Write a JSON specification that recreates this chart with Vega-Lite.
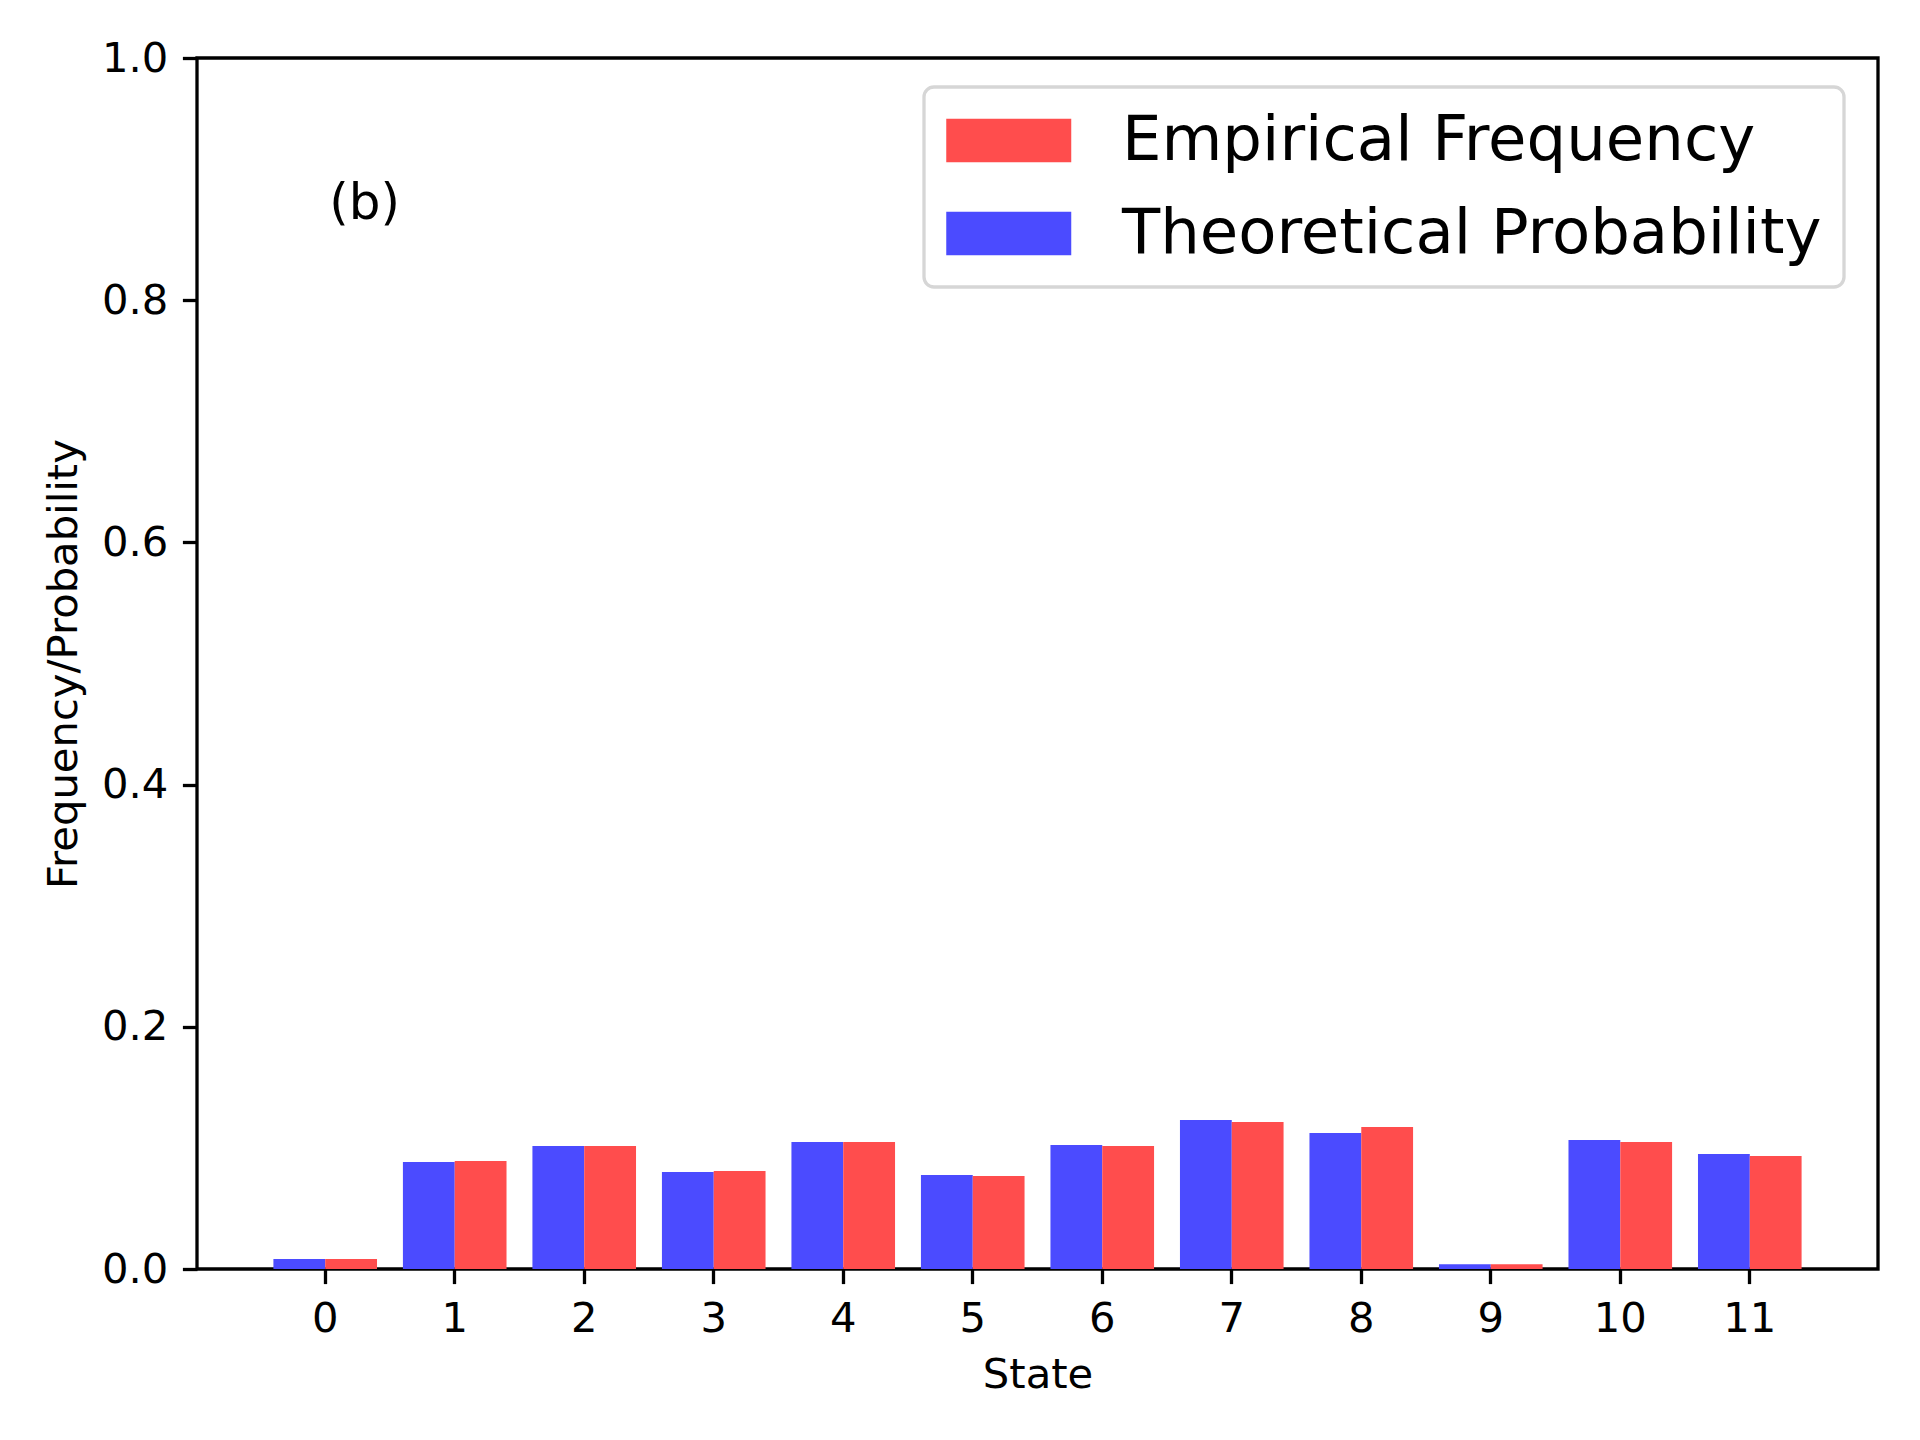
{
  "$schema": "https://vega.github.io/schema/vega-lite/v6.json",
  "width": 1681,
  "height": 1211,
  "autosize": {"type": "none"},
  "padding": {"left": 197, "top": 58, "right": 42, "bottom": 171},
  "background": "white",
  "config": {
    "font": "DejaVu Sans",
    "view": {"stroke": "black", "strokeWidth": 3.3},
    "axis": {
      "domain": false,
      "grid": false,
      "ticks": true,
      "tickColor": "black",
      "tickWidth": 3.3,
      "tickSize": 14.6,
      "labelPadding": 14.6,
      "labelFont": "DejaVu Sans",
      "labelFontSize": 41.7,
      "labelColor": "black",
      "titleFont": "DejaVu Sans",
      "titleFontSize": 41.7,
      "titleFontWeight": "normal",
      "titleColor": "black"
    },
    "legend": {
      "strokeColor": "#d6d6d6",
      "strokeWidth": 3.3,
      "fillColor": "white",
      "cornerRadius": 10,
      "padding": 22
    }
  },
  "layer": [
    {
      "data": {
        "values": [
          {"state": 0, "series": "Theoretical Probability", "value": 0.0083},
          {"state": 0, "series": "Empirical Frequency", "value": 0.0083},
          {"state": 1, "series": "Theoretical Probability", "value": 0.0884},
          {"state": 1, "series": "Empirical Frequency", "value": 0.0892},
          {"state": 2, "series": "Theoretical Probability", "value": 0.1016},
          {"state": 2, "series": "Empirical Frequency", "value": 0.1016},
          {"state": 3, "series": "Theoretical Probability", "value": 0.0800},
          {"state": 3, "series": "Empirical Frequency", "value": 0.0810},
          {"state": 4, "series": "Theoretical Probability", "value": 0.1049},
          {"state": 4, "series": "Empirical Frequency", "value": 0.1049},
          {"state": 5, "series": "Theoretical Probability", "value": 0.0776},
          {"state": 5, "series": "Empirical Frequency", "value": 0.0768},
          {"state": 6, "series": "Theoretical Probability", "value": 0.1024},
          {"state": 6, "series": "Empirical Frequency", "value": 0.1016},
          {"state": 7, "series": "Theoretical Probability", "value": 0.1230},
          {"state": 7, "series": "Empirical Frequency", "value": 0.1214},
          {"state": 8, "series": "Theoretical Probability", "value": 0.1123},
          {"state": 8, "series": "Empirical Frequency", "value": 0.1173},
          {"state": 9, "series": "Theoretical Probability", "value": 0.0040},
          {"state": 9, "series": "Empirical Frequency", "value": 0.0040},
          {"state": 10, "series": "Theoretical Probability", "value": 0.1065},
          {"state": 10, "series": "Empirical Frequency", "value": 0.1049},
          {"state": 11, "series": "Theoretical Probability", "value": 0.0950},
          {"state": 11, "series": "Empirical Frequency", "value": 0.0933}
        ]
      },
      "mark": {"type": "bar", "opacity": 1, "strokeWidth": 0},
      "encoding": {
        "x": {
          "field": "state",
          "type": "ordinal",
          "title": "State",
          "scale": {"paddingInner": 0.2, "paddingOuter": 0.59},
          "axis": {"labelAngle": 0, "titlePadding": 15}
        },
        "xOffset": {
          "field": "series",
          "type": "nominal",
          "scale": {"domain": ["Theoretical Probability", "Empirical Frequency"], "paddingInner": 0, "paddingOuter": 0}
        },
        "y": {
          "field": "value",
          "type": "quantitative",
          "title": "Frequency/Probability",
          "scale": {"domain": [0, 1], "nice": false, "zero": true},
          "axis": {"values": [0, 0.2, 0.4, 0.6, 0.8, 1.0], "format": ".1f", "titlePadding": 16}
        },
        "color": {
          "field": "series",
          "type": "nominal",
          "scale": {"domain": ["Empirical Frequency", "Theoretical Probability"], "range": ["#ff4d4d", "#4b4bff"]},
          "legend": {
            "title": null,
            "orient": "none",
            "legendX": 727,
            "legendY": 29,
            "symbolType": "M-1,-0.695L3.0,-0.695L3.0,0.695L-1,0.695Z",
            "symbolSize": 3906,
            "symbolStrokeWidth": 0,
            "symbolOpacity": 1,
            "labelFont": "DejaVu Sans",
            "labelFontSize": 62.5,
            "labelColor": "black",
            "labelOffset": 113,
            "labelLimit": 1000,
            "rowPadding": 30
          }
        }
      }
    },
    {
      "data": {"values": [{"state": 0, "y": 0.9, "label": "(b)"}]},
      "mark": {"type": "text", "align": "left", "baseline": "top", "fontSize": 50, "font": "DejaVu Sans", "color": "black", "dx": 4},
      "encoding": {
        "x": {"field": "state", "type": "ordinal"},
        "y": {"field": "y", "type": "quantitative"},
        "text": {"field": "label"}
      }
    }
  ]
}
